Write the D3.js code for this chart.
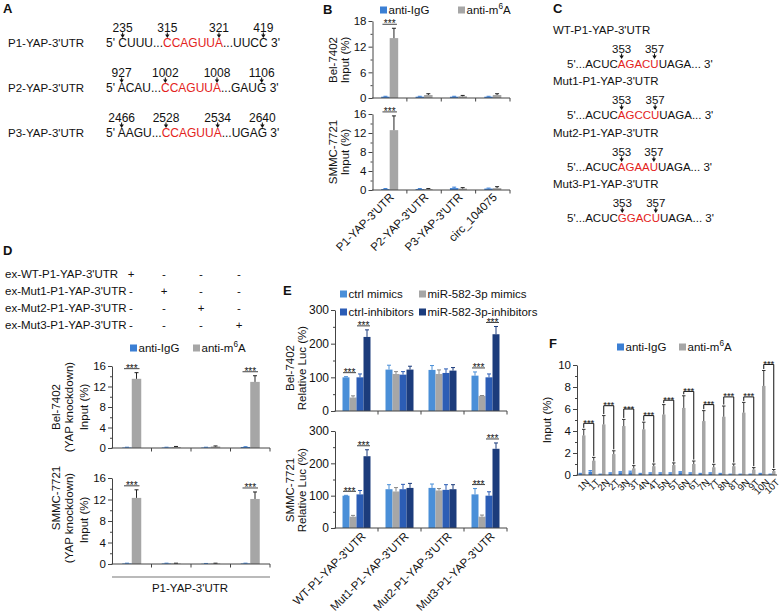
<!DOCTYPE html>
<html><head><meta charset="utf-8">
<script src="https://cdn.jsdelivr.net/npm/d3@7"></script>
<style>body{margin:0;background:#fff}svg{display:block}</style>
</head><body><svg id="c" width="780" height="616"></svg>
<script>
// ---------------- DATA ----------------
// Panel A
const aLabels = ["P1-YAP-3'UTR", "P2-YAP-3'UTR", "P3-YAP-3'UTR"];
const aPositions = [[235, 315, 321, 419], [927, 1002, 1008, 1106], [2466, 2528, 2534, 2640]];
const aHead = ["CUUU", "ACAU", "AAGU"];
const aTail = ["UUCC", "GAUG", "UGAG"];
const aMotif = "CCAGUUA";

// Panel B
const bCats = ["P1-YAP-3'UTR", "P2-YAP-3'UTR", "P3-YAP-3'UTR", "circ_104075"];
const bBelIgG = [0.3, 0.3, 0.3, 0.3];
const bBelIgGErr = [0.1, 0.1, 0.1, 0.1];
const bBelM6A = [14.0, 0.7, 0.4, 0.7];
const bBelM6AErr = [2.3, 0.3, 0.2, 0.3];
const bSmmIgG = [0.2, 0.2, 0.4, 0.3];
const bSmmIgGErr = [0.1, 0.1, 0.2, 0.1];
const bSmmM6A = [12.6, 0.2, 0.3, 0.4];
const bSmmM6AErr = [3.0, 0.1, 0.2, 0.3];
const bBelTicks = [0, 6, 12, 18];
const bSmmTicks = [0, 4, 8, 12, 16];

// Panel C
const cLabels = ["WT-P1-YAP-3'UTR", "Mut1-P1-YAP-3'UTR", "Mut2-P1-YAP-3'UTR", "Mut3-P1-YAP-3'UTR"];
const cSites = ["AGACU", "AGCCU", "AGAAU", "GGACU"];
const cPositions = [353, 357];
const cPrefix = "5'...ACUC";
const cSuffix = "UAGA... 3'";

// Panel D
const dRowLabels = ["ex-WT-P1-YAP-3'UTR", "ex-Mut1-P1-YAP-3'UTR", "ex-Mut2-P1-YAP-3'UTR", "ex-Mut3-P1-YAP-3'UTR"];
const dMatrix = [["+", "-", "-", "-"], ["-", "+", "-", "-"], ["-", "-", "+", "-"], ["-", "-", "-", "+"]];
const dGroups = ["WT", "Mut1", "Mut2", "Mut3"];
const dBelIgG = [0.1, 0.1, 0.1, 0.2];
const dBelIgGErr = [0.05, 0.05, 0.05, 0.05];
const dBelM6A = [13.5, 0.2, 0.3, 12.9];
const dBelM6AErr = [1.2, 0.1, 0.1, 1.2];
const dSmmIgG = [0.1, 0.1, 0.05, 0.1];
const dSmmIgGErr = [0.05, 0.05, 0.05, 0.05];
const dSmmM6A = [12.3, 0.1, 0.1, 12.1];
const dSmmM6AErr = [1.5, 0.05, 0.05, 1.3];
const dTicks = [0, 4, 8, 12, 16];
const dGroupLabel = "P1-YAP-3'UTR";

// Panel E
const eCats = ["WT-P1-YAP-3'UTR", "Mut1-P1-YAP-3'UTR", "Mut2-P1-YAP-3'UTR", "Mut3-P1-YAP-3'UTR"];
const eSeriesNames = ["ctrl mimics", "miR-582-3p mimics", "ctrl-inhibitors", "miR-582-3p-inhibitors"];
const eBelCtrlMim = [100, 123, 122, 105];
const eBelCtrlMimErr = [2, 13, 13, 11];
const eBelMirMim = [40, 110, 110, 45];
const eBelMirMimErr = [5, 7, 12, 1];
const eBelCtrlInh = [100, 108, 113, 100];
const eBelCtrlInhErr = [10, 9, 12, 10];
const eBelMirInh = [220, 123, 120, 228];
const eBelMirInhErr = [21, 10, 9, 23];
const eSmmCtrlMim = [100, 120, 124, 104];
const eSmmCtrlMimErr = [1, 14, 12, 18];
const eSmmMirMim = [35, 113, 116, 35];
const eSmmMirMimErr = [4, 12, 6, 5];
const eSmmCtrlInh = [104, 120, 118, 100];
const eSmmCtrlInhErr = [12, 15, 16, 12];
const eSmmMirInh = [222, 124, 120, 245];
const eSmmMirInhErr = [20, 14, 14, 18];
const eTicks = [0, 100, 200, 300];

// Panel F
const fCats = ["1N", "1T", "2N", "2T", "3N", "3T", "4N", "4T", "5N", "5T", "6N", "6T", "7N", "7T", "8N", "8T", "9N", "9T", "10N", "10T"];
const fIgG = [0.1, 0.3, 0.05, 0.15, 0.25, 0.25, 0.1, 0.15, 0.15, 0.15, 0.25, 0.15, 0.1, 0.15, 0.1, 0.05, 0.05, 0.05, 0.1, 0.05];
const fIgGErr = [0.05, 0.1, 0.03, 0.05, 0.05, 0.1, 0.05, 0.05, 0.05, 0.05, 0.05, 0.05, 0.05, 0.05, 0.05, 0.03, 0.03, 0.03, 0.05, 0.03];
const fM6A = [3.6, 1.3, 4.6, 1.9, 4.45, 0.6, 4.15, 0.8, 5.5, 0.9, 6.1, 1.0, 4.9, 0.7, 5.3, 0.8, 5.67, 0.5, 8.1, 0.35];
const fM6AErr = [0.55, 0.3, 0.8, 0.3, 0.6, 0.25, 0.65, 0.2, 0.9, 0.2, 1.1, 0.27, 0.95, 0.27, 0.97, 0.2, 0.93, 0.17, 1.4, 0.15];
const fBracket = [4.7, 6.3, 6.0, 5.4, 6.8, 7.6, 6.4, 7.1, 7.1, 10.05];
const fTicks = [0, 2, 4, 6, 8, 10];

// ---------------- DRAWING ----------------
const FONT = "'Liberation Sans', Arial, Helvetica, sans-serif";
const INK = "#111";
const RED = "#e3231c";
const IGG = "#3b7fd4";
const M6A = "#a6a6a6";
const E_COL = ["#4a8fd8", "#a6a6a6", "#2c5db5", "#1c3c7c"];
const AXIS = "#444";
const FS = 11.5;

const svg = d3.select("#c").attr("font-family", FONT);

function txt(x, y, s, o = {}) {
  const t = svg.append("text").attr("x", x).attr("y", y).text(s)
    .attr("font-size", o.size || FS).attr("text-anchor", o.anchor || "start")
    .attr("fill", o.fill || INK);
  if (o.weight) t.attr("font-weight", o.weight);
  return t;
}
function rotText(x, y, s, size = FS) {
  return svg.append("text").attr("transform", `translate(${x},${y}) rotate(-90)`)
    .attr("text-anchor", "middle").attr("font-size", size).attr("fill", INK).text(s);
}
function m6aText(x, y, size = FS) {
  const t = svg.append("text").attr("x", x).attr("y", y).attr("font-size", size).attr("fill", INK);
  t.append("tspan").text("anti-m");
  t.append("tspan").attr("dy", -5).attr("font-size", size * 0.72).text("6");
  t.append("tspan").attr("dy", 5).text("A");
  return t;
}
function legendItem(x, y, color, label, size = FS) {
  svg.append("rect").attr("x", x).attr("y", y - 7.5).attr("width", 7).attr("height", 7).attr("fill", color);
  if (label === "m6A") m6aText(x + 8.5, y, size);
  else txt(x + 8.5, y, label, { size });
}
function arrow(cx, yTop, yTip) {
  svg.append("line").attr("x1", cx).attr("x2", cx).attr("y1", yTop).attr("y2", yTip - 3)
    .attr("stroke", INK).attr("stroke-width", 1);
  svg.append("path").attr("d", `M${cx - 2.2},${yTip - 3.5}L${cx + 2.2},${yTip - 3.5}L${cx},${yTip}Z`).attr("fill", INK);
}
function seqLine(x, y, parts, arrows, size = 12) {
  const t = svg.append("text").attr("x", x).attr("y", y).attr("font-size", size);
  parts.forEach(p => t.append("tspan").attr("fill", p.color).text(p.s));
  const node = t.node();
  arrows.forEach(a => {
    const ext = node.getExtentOfChar(a.idx);
    const cx = ext.x + ext.width / 2;
    txt(cx, y - 15.5, String(a.label), { anchor: "middle", size });
    arrow(cx, y - 14.5, y - 9);
  });
}

function barChart(o) {
  const g = svg.append("g");
  const x = d3.scaleBand().domain(o.cats).range([o.x0, o.x1]);
  const y = d3.scaleLinear().domain([0, o.max]).range([o.y1, o.y0]);
  const n = o.series.length;
  const barX = (j, i) => x(o.cats[j]) + x.bandwidth() / 2 + (i - n / 2) * o.barW + (o.shift || 0);
  o.series.forEach((s, i) => {
    g.selectAll(null).data(s.vals).join("rect")
      .attr("x", (d, j) => barX(j, i)).attr("width", o.barW)
      .attr("y", d => y(d)).attr("height", d => y(0) - y(d))
      .attr("fill", s.color);
    if (s.errs) {
      g.selectAll(null).data(s.vals).join("path")
        .attr("d", (d, j) => {
          const xm = barX(j, i) + o.barW / 2, yt = y(d + s.errs[j]), yb = y(d), cw = o.capW;
          return `M${xm},${yb}V${yt}M${xm - cw / 2},${yt}H${xm + cw / 2}`;
        })
        .attr("stroke", s.errColor || "#222").attr("fill", "none").attr("stroke-width", 1);
    }
  });
  const ya = g.append("g").attr("transform", `translate(${o.x0},0)`)
    .call(d3.axisLeft(y).tickValues(o.ticks).tickSize(4).tickSizeOuter(0).tickPadding(2));
  ya.selectAll("text").attr("font-size", o.fs || 11.5).attr("font-family", FONT).attr("fill", INK);
  ya.selectAll("line,path").attr("stroke", AXIS);
  if (o.minor) {
    const ma = g.append("g").attr("transform", `translate(${o.x0},0)`)
      .call(d3.axisLeft(y).tickValues(o.minor).tickSize(2).tickFormat(""));
    ma.select(".domain").remove();
    ma.selectAll("line").attr("stroke", AXIS);
  }
  g.append("line").attr("x1", o.x0 - 0.5).attr("x2", o.x1).attr("y1", y(0)).attr("y2", y(0)).attr("stroke", AXIS);
  if (o.xTicks) {
    g.selectAll(null).data(o.cats).join("line")
      .attr("x1", d => x(d) + x.bandwidth()).attr("x2", d => x(d) + x.bandwidth())
      .attr("y1", y(0)).attr("y2", y(0) + 3.5).attr("stroke", AXIS);
  }
  if (o.lab) {
    g.selectAll(null).data(o.cats).join("text")
      .attr("transform", d => `translate(${x(d) + x.bandwidth() / 2 + o.lab.dx},${o.y1 + o.lab.dy}) rotate(-45)`)
      .attr("text-anchor", "end").attr("font-size", o.lab.fs).attr("fill", INK).text(d => d);
  }
  if (o.sig) {
    o.sig.forEach(s => {
      const x1 = barX(s.cat, s.a) + o.barW / 2, x2 = barX(s.cat, s.b) + o.barW / 2;
      const sa = o.series[s.a], sb = o.series[s.b];
      const top = Math.max(sa.vals[s.cat] + sa.errs[s.cat], sb.vals[s.cat] + sb.errs[s.cat]);
      const ly = y(top) - 4;
      g.append("line").attr("x1", x1 - 3).attr("x2", x2 + 3).attr("y1", ly).attr("y2", ly).attr("stroke", INK).attr("stroke-width", 0.8);
      g.append("text").attr("x", (x1 + x2) / 2).attr("y", ly + 3.2).attr("text-anchor", "middle")
        .attr("font-size", 10).attr("fill", INK).text("***");
    });
  }
  return { g, x, y, barX };
}
const mids = t => t.slice(1).map((v, i) => (v + t[i]) / 2);

// ---- Panel letters
txt(3, 13, "A", { size: 13, weight: "bold" });
txt(323, 14, "B", { size: 13, weight: "bold" });
txt(553, 13, "C", { size: 13, weight: "bold" });
txt(3, 255, "D", { size: 13, weight: "bold" });
txt(283, 295, "E", { size: 13, weight: "bold" });
txt(549, 348, "F", { size: 13, weight: "bold" });

// ---- Panel A
const aBase = [47, 92, 137];
aLabels.forEach((lab, i) => {
  txt(8, aBase[i], lab);
  const head = "5' " + aHead[i] + "...";
  const parts = [{ s: head, color: INK }, { s: aMotif, color: RED }, { s: "..." + aTail[i] + " 3'", color: INK }];
  const i1 = 3, i2 = head.length, i3 = head.length + aMotif.length - 1, i4 = head.length + aMotif.length + 3 + aTail[i].length - 1;
  seqLine(106, aBase[i], parts, [
    { idx: i1, label: aPositions[i][0] }, { idx: i2, label: aPositions[i][1] },
    { idx: i3, label: aPositions[i][2] }, { idx: i4, label: aPositions[i][3] }]);
});

// ---- Panel B
legendItem(380, 14, IGG, "anti-IgG");
legendItem(458, 14, M6A, "m6A");
barChart({ cats: bCats, x0: 372.5, x1: 510, y0: 21, y1: 98, max: 18, ticks: bBelTicks, minor: mids(bBelTicks),
  barW: 8.5, capW: 4, xTicks: true,
  series: [{ vals: bBelIgG, errs: bBelIgGErr, color: IGG, errColor: IGG }, { vals: bBelM6A, errs: bBelM6AErr, color: M6A }],
  sig: [{ cat: 0, a: 0, b: 1 }] });
barChart({ cats: bCats, x0: 372.5, x1: 510, y0: 114, y1: 190, max: 16, ticks: bSmmTicks, minor: mids(bSmmTicks),
  barW: 8.5, capW: 4, xTicks: true, lab: { dx: 5, dy: 8, fs: 11.5 },
  series: [{ vals: bSmmIgG, errs: bSmmIgGErr, color: IGG, errColor: IGG }, { vals: bSmmM6A, errs: bSmmM6AErr, color: M6A }],
  sig: [{ cat: 0, a: 0, b: 1 }] });
rotText(337, 60, "Bel-7402");
rotText(349, 60, "Input (%)");
rotText(337, 152, "SMMC-7721");
rotText(349, 152, "Input (%)");

// ---- Panel C
const cBase = [34, 85, 137, 188];
cLabels.forEach((lab, i) => {
  txt(553, cBase[i], lab);
  const parts = [{ s: cPrefix, color: INK }, { s: cSites[i], color: RED }, { s: cSuffix, color: INK }];
  seqLine(567, cBase[i] + 34, parts, [
    { idx: cPrefix.length, label: cPositions[0] },
    { idx: cPrefix.length + cSites[i].length - 1, label: cPositions[1] }], 11.5);
});

// ---- Panel D
const dRowY = [278, 295, 312, 329];
const dColX = [131, 164, 201, 239];
dRowLabels.forEach((lab, i) => {
  txt(5, dRowY[i], lab);
  dMatrix[i].forEach((v, j) => txt(dColX[j], dRowY[i], v, { anchor: "middle" }));
});
legendItem(130, 352, IGG, "anti-IgG");
legendItem(193, 352, M6A, "m6A");
barChart({ cats: dGroups, x0: 112, x1: 270, y0: 366, y1: 448, max: 16, ticks: dTicks, minor: mids(dTicks),
  barW: 9.5, capW: 4, xTicks: true,
  series: [{ vals: dBelIgG, errs: dBelIgGErr, color: IGG, errColor: IGG }, { vals: dBelM6A, errs: dBelM6AErr, color: M6A }],
  sig: [{ cat: 0, a: 0, b: 1 }, { cat: 3, a: 0, b: 1 }] });
barChart({ cats: dGroups, x0: 112, x1: 270, y0: 478, y1: 564, max: 16, ticks: dTicks, minor: mids(dTicks),
  barW: 9.5, capW: 4, xTicks: true,
  series: [{ vals: dSmmIgG, errs: dSmmIgGErr, color: IGG, errColor: IGG }, { vals: dSmmM6A, errs: dSmmM6AErr, color: M6A }],
  sig: [{ cat: 0, a: 0, b: 1 }, { cat: 3, a: 0, b: 1 }] });
rotText(60, 407, "Bel-7402");
rotText(73, 407, "(YAP knockdown)");
rotText(88, 407, "Input (%)");
rotText(60, 498, "SMMC-7721");
rotText(73, 518, "(YAP knockdown)");
rotText(88, 520, "Input (%)");
svg.append("line").attr("x1", 112).attr("x2", 270).attr("y1", 577).attr("y2", 577).attr("stroke", "#777").attr("stroke-width", 1.2);
txt(190, 592, dGroupLabel, { anchor: "middle" });

// ---- Panel E
legendItem(340, 298, E_COL[0], eSeriesNames[0]);
legendItem(419, 298, E_COL[1], eSeriesNames[1]);
legendItem(340, 316, E_COL[2], eSeriesNames[2]);
legendItem(419, 316, E_COL[3], eSeriesNames[3]);
const eSig = [{ cat: 0, a: 0, b: 1 }, { cat: 0, a: 2, b: 3 }, { cat: 3, a: 0, b: 1 }, { cat: 3, a: 2, b: 3 }];
barChart({ cats: eCats, x0: 335, x1: 507, y0: 310, y1: 411, max: 300, ticks: eTicks, minor: mids(eTicks),
  barW: 7, capW: 4, xTicks: true, fs: 12,
  series: [
    { vals: eBelCtrlMim, errs: eBelCtrlMimErr, color: E_COL[0], errColor: E_COL[0] },
    { vals: eBelMirMim, errs: eBelMirMimErr, color: E_COL[1], errColor: "#888" },
    { vals: eBelCtrlInh, errs: eBelCtrlInhErr, color: E_COL[2], errColor: E_COL[2] },
    { vals: eBelMirInh, errs: eBelMirInhErr, color: E_COL[3], errColor: E_COL[3] }],
  sig: eSig });
barChart({ cats: eCats, x0: 335, x1: 507, y0: 431, y1: 528, max: 300, ticks: eTicks, minor: mids(eTicks),
  barW: 7, capW: 4, xTicks: true, fs: 12, lab: { dx: 10, dy: 9, fs: 11.5 },
  series: [
    { vals: eSmmCtrlMim, errs: eSmmCtrlMimErr, color: E_COL[0], errColor: E_COL[0] },
    { vals: eSmmMirMim, errs: eSmmMirMimErr, color: E_COL[1], errColor: "#888" },
    { vals: eSmmCtrlInh, errs: eSmmCtrlInhErr, color: E_COL[2], errColor: E_COL[2] },
    { vals: eSmmMirInh, errs: eSmmMirInhErr, color: E_COL[3], errColor: E_COL[3] }],
  sig: eSig });
rotText(294, 368, "Bel-7402");
rotText(306, 368, "Relative Luc (%)");
rotText(294, 490, "SMMC-7721");
rotText(306, 490, "Relative Luc (%)");

// ---- Panel F
legendItem(617, 351, IGG, "anti-IgG");
legendItem(679, 351, M6A, "m6A");
const F = barChart({ cats: fCats, x0: 577, x1: 777, y0: 365, y1: 475, max: 10, ticks: fTicks, minor: d3.range(1, 10, 2),
  barW: 3.5, capW: 3.5, xTicks: false, lab: { dx: 8, dy: 8, fs: 9.5 },
  series: [{ vals: fIgG, errs: fIgGErr, color: IGG, errColor: IGG }, { vals: fM6A, errs: fM6AErr, color: M6A, errColor: "#333" }] });
fBracket.forEach((b, k) => {
  const jN = 2 * k, jT = 2 * k + 1;
  const xN = F.barX(jN, 1) + 1.75, xT = F.barX(jT, 1) + 1.75;
  const yb = F.y(b);
  const yN = F.y(fM6A[jN] + fM6AErr[jN]) - 1.5, yT = F.y(fM6A[jT] + fM6AErr[jT]) - 1.5;
  svg.append("path").attr("d", `M${xN},${yN}V${yb}H${xT}V${yT}`).attr("fill", "none").attr("stroke", INK).attr("stroke-width", 1);
  svg.append("text").attr("x", (xN + xT) / 2).attr("y", yb + 2.5).attr("text-anchor", "middle")
    .attr("font-size", 9.5).attr("fill", INK).text("***");
});
rotText(551, 420, "Input (%)");
</script></body></html>
